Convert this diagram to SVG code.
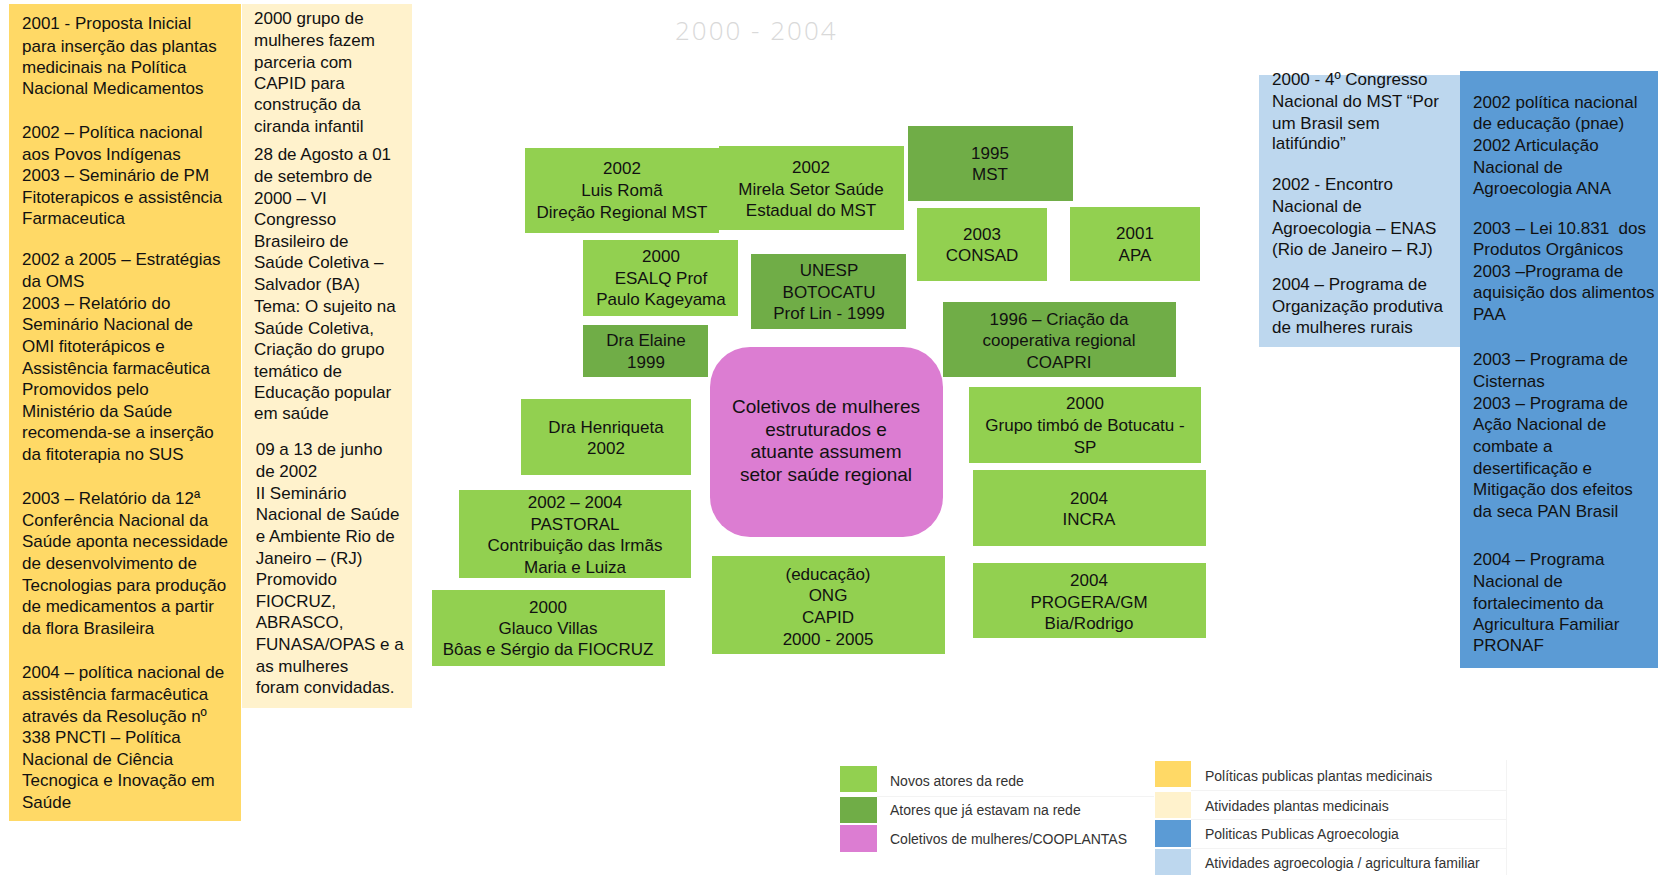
<svg xmlns="http://www.w3.org/2000/svg" width="1658" height="875" viewBox="0 0 1658 875">
<style>
.t{font-family:"Liberation Sans",Arial,sans-serif;font-size:17px;fill:#111}
.c{text-anchor:middle}
.pk{font-size:19px}
.lg{font-family:"Liberation Sans",Arial,sans-serif;font-size:14px;fill:#333}
.ttl{font-family:"Open Sans","Liberation Sans",sans-serif;font-weight:300;font-size:26px;fill:#d9d9d9;letter-spacing:2px}
.ng{fill:#92D050}
.dg{fill:#70AD47}
.pkf{fill:#DC7DD2}
.y{fill:#FFD966}
.cr{fill:#FFF2CC}
.lb{fill:#BDD7EE}
.b{fill:#5B9BD5}
.fl{stroke:#f3f3f3;stroke-width:1;fill:none}
</style>
<rect width="1658" height="875" fill="#ffffff"/>

<g id="title"><text class="ttl" x="675" y="40">2000 - 2004</text></g>

<g id="politicas-plantas">
<rect class="y" x="9" y="4" width="232" height="817"/>
<text class="t">
<tspan x="22" y="29.3">2001 - Proposta Inicial</tspan>
<tspan x="22" y="51.7">para inserção das plantas</tspan>
<tspan x="22" y="72.7">medicinais na Política</tspan>
<tspan x="22" y="94.3">Nacional Medicamentos</tspan>
<tspan x="22" y="137.7">2002 – Política nacional</tspan>
<tspan x="22" y="160">aos Povos Indígenas</tspan>
<tspan x="22" y="181">2003 – Seminário de PM</tspan>
<tspan x="22" y="202.7">Fitoterapicos e assistência</tspan>
<tspan x="22" y="224.3">Farmaceutica</tspan>
<tspan x="22" y="265.3">2002 a 2005 – Estratégias</tspan>
<tspan x="22" y="287">da OMS</tspan>
<tspan x="22" y="308.7">2003 – Relatório do</tspan>
<tspan x="22" y="330.3">Seminário Nacional de</tspan>
<tspan x="22" y="351.7">OMI fitoterápicos e</tspan>
<tspan x="22" y="373.7">Assistência farmacêutica</tspan>
<tspan x="22" y="395">Promovidos pelo</tspan>
<tspan x="22" y="417">Ministério da Saúde</tspan>
<tspan x="22" y="438.3">recomenda-se a inserção</tspan>
<tspan x="22" y="460">da fitoterapia no SUS</tspan>
<tspan x="22" y="504">2003 – Relatório da 12ª</tspan>
<tspan x="22" y="526">Conferência Nacional da</tspan>
<tspan x="22" y="547.3">Saúde aponta necessidade</tspan>
<tspan x="22" y="569">de desenvolvimento de</tspan>
<tspan x="22" y="590.7">Tecnologias para produção</tspan>
<tspan x="22" y="612.3">de medicamentos a partir</tspan>
<tspan x="22" y="633.7">da flora Brasileira</tspan>
<tspan x="22" y="678.3">2004 – política nacional de</tspan>
<tspan x="22" y="700">assistência farmacêutica</tspan>
<tspan x="22" y="721.7">através da Resolução nº</tspan>
<tspan x="22" y="743">338 PNCTI – Política</tspan>
<tspan x="22" y="764.7">Nacional de Ciência</tspan>
<tspan x="22" y="786.3">Tecnogica e Inovação em</tspan>
<tspan x="22" y="807.7">Saúde</tspan>
</text>
</g>

<g id="atividades-plantas">
<rect class="cr" x="242" y="4" width="170" height="704"/>
<text class="t">
<tspan x="254" y="24.3">2000 grupo de</tspan>
<tspan x="254" y="46">mulheres fazem</tspan>
<tspan x="254" y="67.7">parceria com</tspan>
<tspan x="254" y="89.3">CAPID para</tspan>
<tspan x="254" y="110.3">construção da</tspan>
<tspan x="254" y="132">ciranda infantil</tspan>
<tspan x="254" y="160.3">28 de Agosto a 01</tspan>
<tspan x="254" y="182">de setembro de</tspan>
<tspan x="254" y="203.7">2000 – VI</tspan>
<tspan x="254" y="225.3">Congresso</tspan>
<tspan x="254" y="246.7">Brasileiro de</tspan>
<tspan x="254" y="268.3">Saúde Coletiva –</tspan>
<tspan x="254" y="290">Salvador (BA)</tspan>
<tspan x="254" y="312">Tema: O sujeito na</tspan>
<tspan x="254" y="333.7">Saúde Coletiva,</tspan>
<tspan x="254" y="355">Criação do grupo</tspan>
<tspan x="254" y="376.7">temático de</tspan>
<tspan x="254" y="398.3">Educação popular</tspan>
<tspan x="254" y="419.3">em saúde</tspan>
<tspan x="255.7" y="455.3">09 a 13 de junho</tspan>
<tspan x="255.7" y="477.3">de 2002</tspan>
<tspan x="255.7" y="498.7">II Seminário</tspan>
<tspan x="255.7" y="520.3">Nacional de Saúde</tspan>
<tspan x="255.7" y="542">e Ambiente Rio de</tspan>
<tspan x="255.7" y="563.7">Janeiro – (RJ)</tspan>
<tspan x="255.7" y="585">Promovido</tspan>
<tspan x="255.7" y="606.7">FIOCRUZ,</tspan>
<tspan x="255.7" y="628.3">ABRASCO,</tspan>
<tspan x="255.7" y="650">FUNASA/OPAS e a</tspan>
<tspan x="255.7" y="671.7">as mulheres</tspan>
<tspan x="255.7" y="693.3">foram convidadas.</tspan>
</text>
</g>

<g id="atividades-agroecologia">
<rect class="lb" x="1259" y="75" width="202" height="272"/>
<text class="t">
<tspan x="1272" y="85.3">2000 - 4º Congresso</tspan>
<tspan x="1272" y="107">Nacional do MST “Por</tspan>
<tspan x="1272" y="128.7">um Brasil sem</tspan>
<tspan x="1272" y="149.3">latifúndio”</tspan>
<tspan x="1272" y="190.3">2002 - Encontro</tspan>
<tspan x="1272" y="212">Nacional de</tspan>
<tspan x="1272" y="233.7">Agroecologia – ENAS</tspan>
<tspan x="1272" y="255.3">(Rio de Janeiro – RJ)</tspan>
<tspan x="1272" y="290.3">2004 – Programa de</tspan>
<tspan x="1272" y="312">Organização produtiva</tspan>
<tspan x="1272" y="332.7">de mulheres rurais</tspan>
</text>
</g>

<g id="politicas-agroecologia">
<rect class="b" x="1460" y="71" width="198" height="597"/>
<text class="t">
<tspan x="1473" y="107.7">2002 política nacional</tspan>
<tspan x="1473" y="129.3">de educação (pnae)</tspan>
<tspan x="1473" y="151">2002 Articulação</tspan>
<tspan x="1473" y="172.7">Nacional de</tspan>
<tspan x="1473" y="194.3">Agroecologia ANA</tspan>
<tspan x="1473" y="234.3" style="white-space:pre">2003 – Lei 10.831  dos</tspan>
<tspan x="1473" y="255.3">Produtos Orgânicos</tspan>
<tspan x="1473" y="276.7">2003 –Programa de</tspan>
<tspan x="1473" y="298.3">aquisição dos alimentos</tspan>
<tspan x="1473" y="320">PAA</tspan>
<tspan x="1473" y="365.3">2003 – Programa de</tspan>
<tspan x="1473" y="387">Cisternas</tspan>
<tspan x="1473" y="408.7">2003 – Programa de</tspan>
<tspan x="1473" y="430.3">Ação Nacional de</tspan>
<tspan x="1473" y="452">combate a</tspan>
<tspan x="1473" y="473.7">desertificação e</tspan>
<tspan x="1473" y="495.3">Mitigação dos efeitos</tspan>
<tspan x="1473" y="516.7">da seca PAN Brasil</tspan>
<tspan x="1473" y="565.3">2004 – Programa</tspan>
<tspan x="1473" y="587">Nacional de</tspan>
<tspan x="1473" y="608.7">fortalecimento da</tspan>
<tspan x="1473" y="630.3">Agricultura Familiar</tspan>
<tspan x="1473" y="651">PRONAF</tspan>
</text>
</g>

<g id="node-luis-roma">
<rect class="ng" x="525" y="148" width="194" height="85"/>
<text class="t c"><tspan x="622" y="174.3">2002</tspan><tspan x="622" y="196">Luis Romã</tspan><tspan x="622" y="217.7">Direção Regional MST</tspan></text>
</g>
<g id="node-mirela">
<rect class="ng" x="719" y="146" width="185" height="84"/>
<text class="t c"><tspan x="811" y="173.3">2002</tspan><tspan x="811" y="195">Mirela Setor Saúde</tspan><tspan x="811" y="216">Estadual do MST</tspan></text>
</g>
<g id="node-esalq">
<rect class="ng" x="583" y="240" width="155" height="76"/>
<text class="t c"><tspan x="661" y="262">2000</tspan><tspan x="661" y="283.7">ESALQ Prof</tspan><tspan x="661" y="305.3">Paulo Kageyama</tspan></text>
</g>
<g id="node-unesp">
<rect class="dg" x="751" y="254" width="155" height="75"/>
<text class="t c"><tspan x="829" y="276">UNESP</tspan><tspan x="829" y="297.7">BOTOCATU</tspan><tspan x="829" y="318.7">Prof Lin - 1999</tspan></text>
</g>
<g id="node-elaine">
<rect class="dg" x="583" y="325" width="125" height="52"/>
<text class="t c"><tspan x="646" y="346.3">Dra Elaine</tspan><tspan x="646" y="368">1999</tspan></text>
</g>
<g id="node-coletivos">
<rect class="pkf" x="710" y="347" width="233" height="190" rx="40" ry="40"/>
<text class="t c pk"><tspan x="826" y="413.2">Coletivos de mulheres</tspan><tspan x="826" y="435.5">estruturados e</tspan><tspan x="826" y="458">atuante assumem</tspan><tspan x="826" y="480.5">setor saúde regional</tspan></text>
</g>
<g id="node-henriqueta">
<rect class="ng" x="521" y="399" width="170" height="76"/>
<text class="t c"><tspan x="606" y="432.7">Dra Henriqueta</tspan><tspan x="606" y="454.3">2002</tspan></text>
</g>
<g id="node-pastoral">
<rect class="ng" x="459" y="490" width="232" height="88"/>
<text class="t c"><tspan x="575" y="508.3">2002 – 2004</tspan><tspan x="575" y="530">PASTORAL</tspan><tspan x="575" y="551.3">Contribuição das Irmãs</tspan><tspan x="575" y="573">Maria e Luiza</tspan></text>
</g>
<g id="node-glauco">
<rect class="ng" x="432" y="590" width="233" height="76"/>
<text class="t c"><tspan x="548" y="612.7">2000</tspan><tspan x="548" y="634.3">Glauco Villas</tspan><tspan x="548" y="655.3">Bôas e Sérgio da FIOCRUZ</tspan></text>
</g>
<g id="node-capid">
<rect class="ng" x="712" y="556" width="233" height="98"/>
<text class="t c"><tspan x="828" y="580">(educação)</tspan><tspan x="828" y="601.3">ONG</tspan><tspan x="828" y="623">CAPID</tspan><tspan x="828" y="644.7">2000 - 2005</tspan></text>
</g>
<g id="node-mst">
<rect class="dg" x="908" y="126" width="165" height="75"/>
<text class="t c"><tspan x="990" y="158.7">1995</tspan><tspan x="990" y="180.3">MST</tspan></text>
</g>
<g id="node-consad">
<rect class="ng" x="917" y="208" width="130" height="73"/>
<text class="t c"><tspan x="982" y="240">2003</tspan><tspan x="982" y="261.3">CONSAD</tspan></text>
</g>
<g id="node-apa">
<rect class="ng" x="1070" y="207" width="130" height="74"/>
<text class="t c"><tspan x="1135" y="239.3">2001</tspan><tspan x="1135" y="260.7">APA</tspan></text>
</g>
<g id="node-coapri">
<rect class="dg" x="943" y="302" width="233" height="75"/>
<text class="t c"><tspan x="1059" y="324.7">1996 – Criação da</tspan><tspan x="1059" y="346">cooperativa regional</tspan><tspan x="1059" y="367.7">COAPRI</tspan></text>
</g>
<g id="node-timbo">
<rect class="ng" x="969" y="387" width="232" height="76"/>
<text class="t c"><tspan x="1085" y="409.3">2000</tspan><tspan x="1085" y="431">Grupo timbó de Botucatu -</tspan><tspan x="1085" y="452.7">SP</tspan></text>
</g>
<g id="node-incra">
<rect class="ng" x="973" y="470" width="233" height="76"/>
<text class="t c"><tspan x="1089" y="503.7">2004</tspan><tspan x="1089" y="525.3">INCRA</tspan></text>
</g>
<g id="node-progera">
<rect class="ng" x="973" y="563" width="233" height="75"/>
<text class="t c"><tspan x="1089" y="586">2004</tspan><tspan x="1089" y="607.7">PROGERA/GM</tspan><tspan x="1089" y="628.7">Bia/Rodrigo</tspan></text>
</g>

<g id="connectors"></g>

<g id="legend">
<path class="fl" d="M877 796.5H1154 M1191 790.5H1506 M1191 819.5H1506 M1191 848.5H1506 M1506.5 760V875"/>
<rect class="ng" x="840" y="766" width="37" height="26"/>
<rect class="dg" x="840" y="797" width="37" height="26"/>
<rect class="pkf" x="840" y="825" width="37" height="27"/>
<text class="lg" x="890" y="786">Novos atores da rede</text>
<text class="lg" x="890" y="815">Atores que já estavam na rede</text>
<text class="lg" x="890" y="844">Coletivos de mulheres/COOPLANTAS</text>
<rect class="y" x="1155" y="761" width="36" height="26"/>
<rect class="cr" x="1155" y="792" width="36" height="26"/>
<rect class="b" x="1155" y="820" width="36" height="27"/>
<rect class="lb" x="1155" y="849" width="36" height="26"/>
<text class="lg" x="1205" y="780.7">Políticas publicas plantas medicinais</text>
<text class="lg" x="1205" y="810.7">Atividades plantas medicinais</text>
<text class="lg" x="1205" y="839.3">Politicas Publicas Agroecologia</text>
<text class="lg" x="1205" y="868.3">Atividades agroecologia / agricultura familiar</text>
</g>
</svg>
